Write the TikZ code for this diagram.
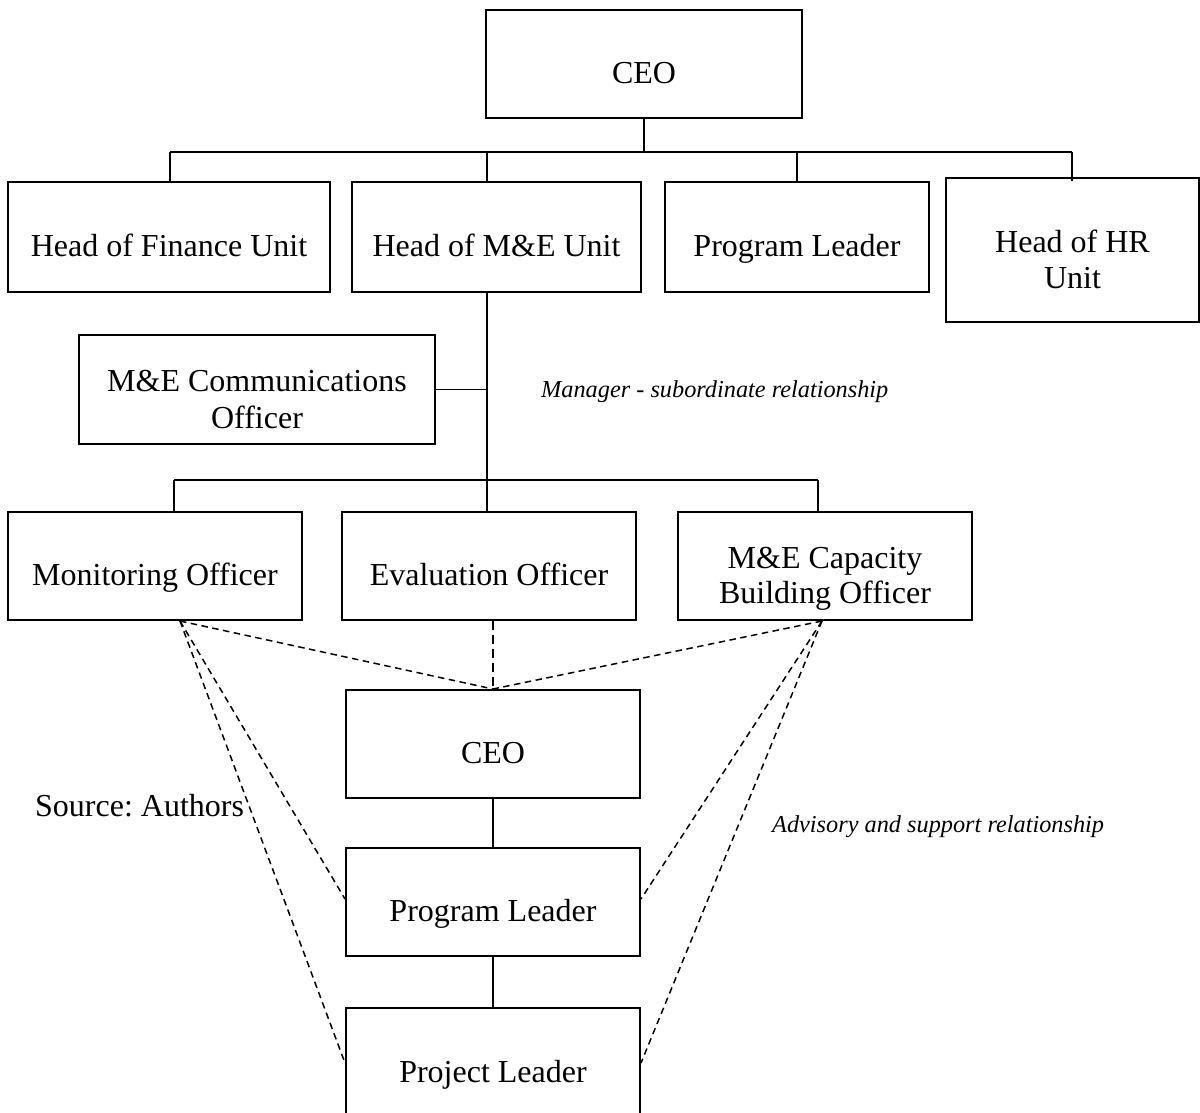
\documentclass[tikz,border=0pt]{standalone}
\usepackage{fontspec}
\setmainfont{Liberation Serif}
\frenchspacing
\usetikzlibrary{calc}

\begin{document}
\begin{tikzpicture}[x=1pt, y=-1pt,
  box/.style={draw, line width=2pt, inner sep=0pt,
    font=\fontsize{32}{36.5}\selectfont,
    text height=38pt, text depth=0pt},
  twoline/.style={text height=4pt, text depth=0pt},
  link/.style={line width=1.8pt},
  adv/.style={line width=1.5pt, dash pattern=on 6.5pt off 4.5pt},
  note/.style={inner sep=0pt, anchor=base west,
    font=\fontsize{24.3}{29}\selectfont\itshape},
  src/.style={inner sep=0pt, anchor=base west,
    font=\fontsize{32}{36.5}\selectfont}]

\useasboundingbox (0,0) rectangle (1200,1112);
\clip (0,0) rectangle (1200,1112);

% ---- management level ----
\node[box, minimum width=316pt, minimum height=108pt] (ceo)  at (644,64)   {CEO};
\node[box, minimum width=322pt, minimum height=110pt] (fin)  at (169,237)  {Head of Finance Unit};
\node[box, minimum width=289pt, minimum height=110pt] (me)   at (496.5,237) {Head of M\&E Unit};
\node[box, minimum width=264pt, minimum height=110pt] (prog) at (797,237)  {Program Leader};
\node[box, twoline, minimum width=253pt, minimum height=144pt] (hr) at (1072.5,250)
  {\begin{tabular}[t]{@{}c@{}}Head of HR\\Unit\end{tabular}};

% ---- M&E unit ----
\node[box, twoline, minimum width=356pt, minimum height=109pt] (comm) at (257,389.5)
  {\begin{tabular}[t]{@{}c@{}}M\&E Communications\\[0.5pt]Officer\end{tabular}};
\node[box, minimum width=294pt, minimum height=108pt] (mon)  at (155,566) {Monitoring Officer};
\node[box, minimum width=294pt, minimum height=108pt] (eval) at (489,566) {Evaluation Officer};
\node[box, twoline, minimum width=294pt, minimum height=108pt] (cap) at (825,566)
  {\begin{tabular}[t]{@{}c@{}}M\&E Capacity\\[-1pt]Building Officer\end{tabular}};

% ---- programme line ----
\node[box, minimum width=294pt, minimum height=108pt] (ceo2) at (493,744)  {CEO};
\node[box, minimum width=294pt, minimum height=108pt] (pl)   at (493,902)  {Program Leader};
\node[box, minimum width=294pt, minimum height=110pt] (prj)  at (493,1063) {Project Leader};

% ---- labels ----
\node[note] (mgr) at (541,397) {Manager - subordinate relationship};
\node[note] (advl) at (772,832) {Advisory and support relationship};
\node[src] (source) at (35,816) {Source: Authors};

% ---- solid reporting lines ----
\coordinate (sFin)  at (170,152);
\coordinate (sMe)   at (487,152);
\coordinate (sProg) at (797,152);
\coordinate (sHr)   at (1072,152);
\draw[link] (ceo.south) -- (ceo.south |- sFin);
\draw[link] (sFin) -- (sHr);
\draw[link] (sFin)  -- (sFin |- fin.north);
\draw[link] (sMe)   -- (sMe |- me.north);
\draw[link] (sProg) -- (sProg |- prog.north);
\draw[link] (sHr)   -- ($(sHr |- hr.north)+(0,4)$);

\coordinate (tMon)  at (174,480);
\coordinate (tEval) at (487,480);
\coordinate (tCap)  at (818,480);
\draw[link] (sMe |- me.south) -- (tEval);
\draw[link] (comm.east) -- (comm.east -| sMe);
\draw[link] (tMon) -- (tCap);
\draw[link] (tMon)  -- (tMon |- mon.north);
\draw[link] (tEval) -- (tEval |- eval.north);
\draw[link] (tCap)  -- (tCap |- cap.north);

\draw[link] (ceo2.south) -- (pl.north);
\draw[link] (pl.south) -- (prj.north);

% ---- dashed advisory lines ----
\coordinate (dMon) at ($(mon.south)+(25,0)$);
\coordinate (dCap) at ($(cap.south)+(-3,0)$);
\draw[adv] (dMon) -- (ceo2.north);
\draw[adv] (dCap) -- (ceo2.north);
\draw[adv, dash pattern=on 9pt off 5pt] (eval.south -| ceo2.north) -- (ceo2.north);
\draw[adv] (dMon) -- ($(pl.west)+(0,-3)$);
\draw[adv] (dMon) -- (prj.west);
\draw[adv] (dCap) -- ($(pl.east)+(0,-3)$);
\draw[adv] (dCap) -- (prj.east);
\end{tikzpicture}
\end{document}
